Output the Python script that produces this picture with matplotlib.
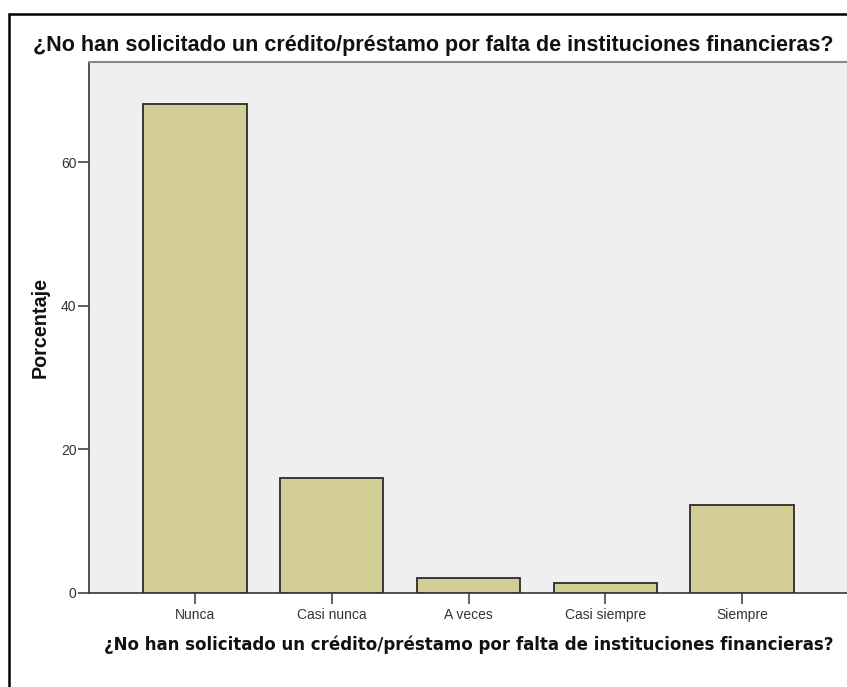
import matplotlib
matplotlib.use("Agg")
import matplotlib.pyplot as plt
from matplotlib.patches import Rectangle

categories = ["Nunca", "Casi nunca", "A veces", "Casi siempre", "Siempre"]
values = [68.2, 16.0, 2.1, 1.4, 12.2]
yticks = [0, 20, 40, 60]
title = "¿No han solicitado un crédito/préstamo por falta de instituciones financieras?"

W, H = 847, 687
fig = plt.figure(figsize=(W / 100, H / 100), dpi=100)
fig.patch.set_facecolor("white")

def fx(px):
    return px / W

def fy(py):
    return 1 - py / H

ax = fig.add_axes([fx(89), fy(593), fx(848) - fx(89), fy(62) - fy(593)])
ax.set_facecolor("#EFEFEF")
x = list(range(len(categories)))
ax.bar(x, values, width=0.755, color="#D3CD96", edgecolor="#2b2b2b", linewidth=1.3, zorder=3)
ax.set_xlim(-0.775, len(categories) - 1 + 0.775)
ax.set_ylim(0, 74)
ax.set_yticks(yticks)
ax.set_yticklabels([str(t) for t in yticks])
ax.set_xticks(x)
ax.set_xticklabels(categories)
for s in ["left", "bottom"]:
    ax.spines[s].set_color("#444444")
    ax.spines[s].set_linewidth(1.3)
ax.spines["top"].set_color("#888888")
ax.spines["top"].set_linewidth(1.5)
ax.spines["right"].set_visible(False)
ax.tick_params(axis="both", direction="out", width=1.2, color="#444444",
               labelsize=10, labelcolor="#333333")
ax.tick_params(axis="y", length=8, pad=1)
ax.tick_params(axis="x", length=8, pad=3)
for lab in ax.get_xticklabels() + ax.get_yticklabels():
    lab.set_family("Liberation Sans")

fig.text(fx(433), fy(46), title, ha="center", va="center", fontsize=15.5,
         fontweight="bold", family="Liberation Sans", color="#111111")
fig.text(fx(469), fy(645), title, ha="center", va="center", fontsize=12,
         fontweight="bold", family="DejaVu Sans", color="#111111")
fig.text(fx(40), fy(327), "Porcentaje", ha="center", va="center", rotation=90,
         fontsize=14.2, fontweight="bold", family="Liberation Sans", color="#111111")

fig.patches.append(Rectangle((fx(9), fy(700)), fx(900), fy(14) - fy(700),
                             transform=fig.transFigure, fill=False,
                             edgecolor="black", linewidth=1.8, zorder=10))

fig.savefig("out.png", dpi=100)
